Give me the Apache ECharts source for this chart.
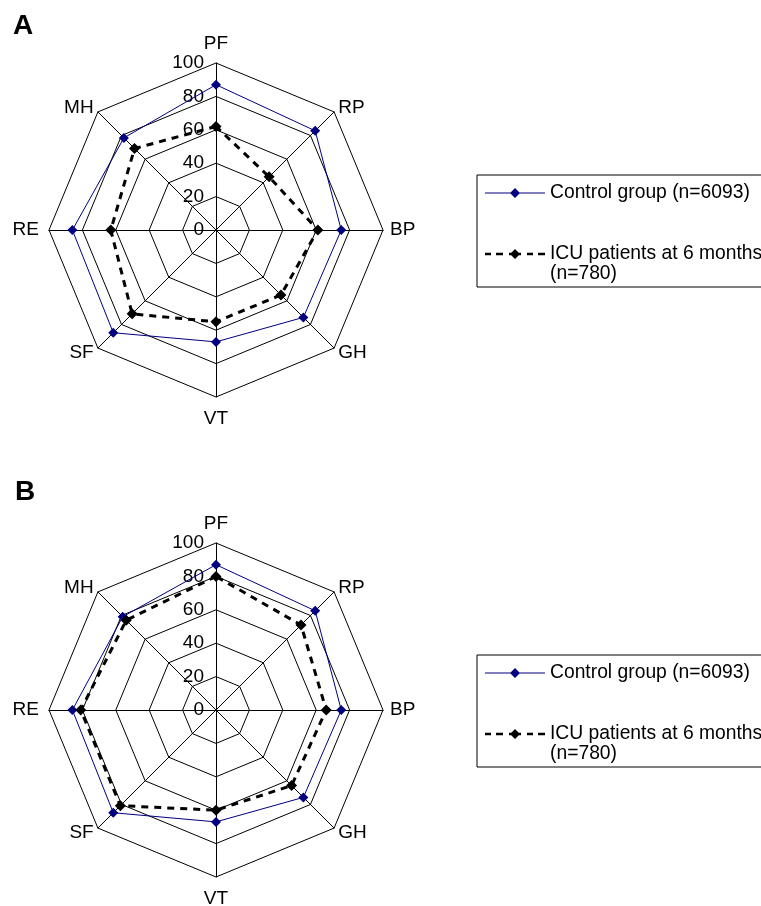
<!DOCTYPE html>
<html>
<head>
<meta charset="utf-8">
<script src="https://cdn.jsdelivr.net/npm/echarts@6/dist/echarts.min.js"></script>
<style>html,body{margin:0;padding:0;background:#fff;overflow:hidden;}#c{width:800px;height:906px;}</style>
</head>
<body>
<div id="c"></div>
<script>
const categories = ['PF', 'RP', 'BP', 'GH', 'VT', 'SF', 'RE', 'MH'];
const controlA = [87, 84, 75, 74, 67, 87, 86, 78];
const icuA = [62, 45, 61, 55, 55, 71, 63, 69];
const controlB = [87, 84, 75, 74, 67, 87, 86, 79];
const icuB = [80, 72, 66, 64, 60, 81, 81, 76];
const seriesNames = ['Control group (n=6093)', 'ICU patients at 6 months (n=780)'];
const panelLabels = ['A', 'B'];
const axisMax = 100;

const FONT = '"Liberation Sans", Arial, Helvetica, sans-serif';
// clockwise order (ECharts radar goes counter-clockwise)
const order = [0, 7, 6, 5, 4, 3, 2, 1];
const gaps = {PF: 9, RP: 6, BP: 7, GH: 6, VT: 12, SF: 6, RE: 10, MH: 6};
const reorder = arr => order.map(i => arr[i]);

function indicators() {
  return order.map((i, k) => {
    const name = categories[i];
    const o = {name: name, max: axisMax, min: 0, nameGap: gaps[name]};
    if (k === 0) o.axisLabel = {show: true};
    return o;
  });
}

function radarCfg(cy) {
  return {
    center: [216, cy],
    radius: 167,
    startAngle: 90,
    shape: 'polygon',
    splitNumber: 5,
    indicator: indicators(),
    axisName: {color: '#000', fontSize: 19, fontFamily: FONT},
    axisLine: {lineStyle: {color: '#000', width: 1}},
    splitLine: {lineStyle: {color: '#000', width: 1}},
    splitArea: {show: false},
    axisTick: {show: false},
    axisLabel: {show: false, showMinLabel: true, showMaxLabel: true, color: '#000', fontSize: 19, fontFamily: FONT, margin: 12}
  };
}

function seriesCfg(radarIndex, control, icu) {
  return {
    type: 'radar',
    radarIndex: radarIndex,
    silent: true,
    data: [
      {
        name: seriesNames[0],
        value: reorder(control),
        symbol: 'diamond',
        symbolSize: 10,
        itemStyle: {color: '#000080'},
        lineStyle: {color: '#000080', width: 1, type: 'solid'}
      },
      {
        name: seriesNames[1],
        value: reorder(icu),
        symbol: 'diamond',
        symbolSize: 11,
        itemStyle: {color: '#000'},
        lineStyle: {color: '#000', width: 3, type: [7, 6]}
      }
    ]
  };
}

const iconControl = 'path://M0,4.5L60,4.5L60,5.5L0,5.5Z M30,0L35,5L30,10L25,5Z';
const iconIcu = 'path://M0,3.7L6,3.7L6,6.3L0,6.3Z M11,3.7L18,3.7L18,6.3L11,6.3Z M24,3.7L36,3.7L36,6.3L24,6.3Z M42,3.7L48,3.7L48,6.3L42,6.3Z M53,3.7L60,3.7L60,6.3L53,6.3Z M30,0L35,5L30,10L25,5Z';

function legendCfg(top) {
  return {
    orient: 'vertical',
    left: 477,
    top: top,
    padding: [8, 20, 3, 8],
    itemWidth: 60,
    itemHeight: 10,
    itemGap: 21,
    borderColor: '#000',
    borderWidth: 1,
    selectedMode: false,
    itemStyle: {borderWidth: 0},
    textStyle: {color: '#000', fontSize: 19.3, fontFamily: FONT, lineHeight: 20},
    formatter: n => n.indexOf(' (n=780)') >= 0 ? '\n' + n.replace(' (n=780)', '\n(n=780)') : n,
    data: [
      {name: seriesNames[0], icon: iconControl, itemStyle: {color: '#000080', borderWidth: 0}},
      {name: seriesNames[1], icon: iconIcu, itemStyle: {color: '#000', borderWidth: 0}}
    ]
  };
}

const chart = echarts.init(document.getElementById('c'), null, {renderer: 'canvas'});
chart.setOption({
  animation: false,
  backgroundColor: '#fff',
  title: [
    {text: panelLabels[0], left: 13, top: 12, padding: 0, textStyle: {fontSize: 28, fontWeight: 'bold', color: '#000', fontFamily: FONT}},
    {text: panelLabels[1], left: 15, top: 478, padding: 0, textStyle: {fontSize: 28, fontWeight: 'bold', color: '#000', fontFamily: FONT}}
  ],
  legend: [legendCfg(175), legendCfg(655)],
  radar: [radarCfg(230), radarCfg(710)],
  series: [seriesCfg(0, controlA, icuA), seriesCfg(1, controlB, icuB)]
});
</script>
</body>
</html>
